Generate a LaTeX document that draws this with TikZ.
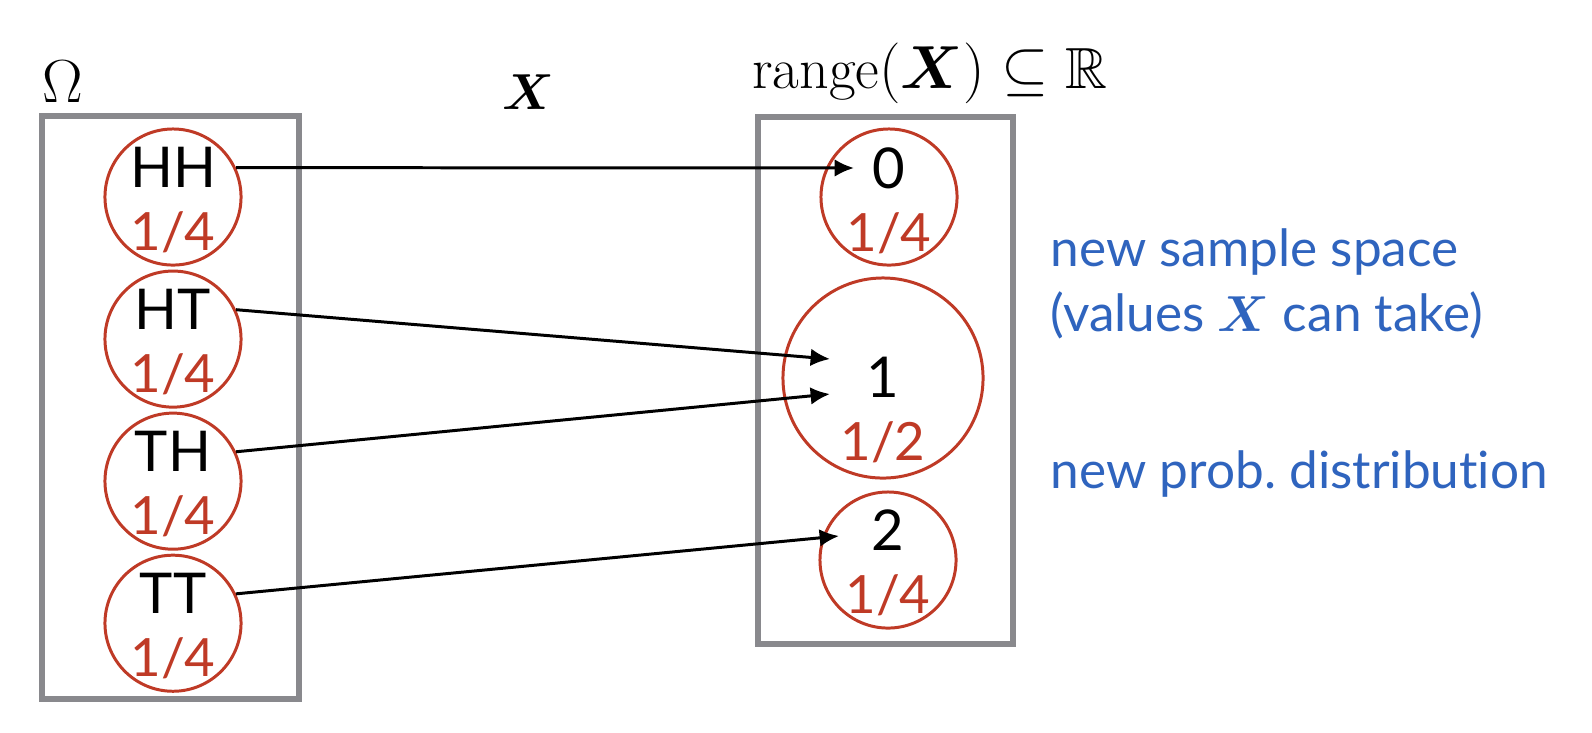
\documentclass[tikz,border=0pt]{standalone}
\usepackage{amsmath,amssymb}
\usepackage{fontspec}
\newfontfamily\labelfont[Ligatures=NoCommon]{Lato}
\usepackage{xcolor}
\usetikzlibrary{positioning,arrows.meta}

\definecolor{outcomered}{RGB}{191,58,38}
\definecolor{framegray}{RGB}{137,137,141}
\definecolor{noteblue}{RGB}{47,100,190}

\begin{document}
\begin{tikzpicture}[x=0.01cm, y=-0.01cm,
  frame/.style={draw=framegray, line width=1.7pt, rectangle, inner sep=0pt},
  outcome/.style={draw=outcomered, line width=0.85pt, circle, inner sep=0pt, minimum size=1.36cm},
  lbl/.style={inner sep=0pt, font=\labelfont\fontsize{16}{18}\selectfont},
  prob/.style={inner sep=0pt, text=outcomered, font=\labelfont\fontsize{15}{17}\selectfont},
  note/.style={inner sep=0pt, text=noteblue, align=left,
    font=\labelfont\fontsize{14.6}{18.5}\selectfont},
  arrow/.style={line width=0.85pt, -{Latex[length=5.5pt, width=5pt]}}
]
  \useasboundingbox (0,0) rectangle (1592,732);

  % sample space
  \node[frame, minimum width=2.57cm, minimum height=5.83cm] (omega) at (170.5,407.5) {};
  \node[font=\fontsize{16}{18}\selectfont] (omegalbl) at (63,82) {$\Omega$};

  \node[outcome] (hhc) at (173,197) {};
  \node[outcome, below=0.03cm of hhc] (htc) {};
  \node[outcome, below=0.03cm of htc] (thc) {};
  \node[outcome, below=0.03cm of thc] (ttc) {};

  \node[lbl] (hh) at ([yshift=0.3cm]hhc) {HH};
  \node[lbl] (ht) at ([yshift=0.3cm]htc) {HT};
  \node[lbl] (th) at ([yshift=0.3cm]thc) {TH};
  \node[lbl] (tt) at ([yshift=0.3cm]ttc) {TT};
  \node[prob] (hhp) at ([yshift=-0.35cm]hhc) {1/4};
  \node[prob] (htp) at ([yshift=-0.35cm]htc) {1/4};
  \node[prob] (thp) at ([yshift=-0.35cm]thc) {1/4};
  \node[prob] (ttp) at ([yshift=-0.35cm]ttc) {1/4};

  % range of X
  \node[frame, minimum width=2.55cm, minimum height=5.27cm] (range) at (885.5,380.5) {};
  \node[font=\fontsize{16.5}{18}\selectfont] (rangelbl) at (930,73)
    {$\mathrm{range}(\boldsymbol{X}) \subseteq \mathbb{R}$};
  \node[font=\fontsize{15.4}{17}\selectfont] (maplbl) at (528,92) {$\boldsymbol{X}$};

  \node[outcome] (zeroc) at (889,197) {};
  \node[outcome, minimum size=2cm] (onec) at (883,378) {};
  \node[outcome] (twoc) at (888,560) {};

  \node[lbl] (zero) at ([yshift=0.29cm]zeroc) {0};
  \node[lbl] (one) at ([yshift=0.01cm]onec) {1};
  \node[lbl] (two) at ([yshift=0.3cm]twoc) {2};
  \node[prob] (zerop) at ([yshift=-0.36cm]zeroc) {1/4};
  \node[prob] (onep) at ([yshift=-0.64cm]onec) {1/2};
  \node[prob] (twop) at ([yshift=-0.35cm]twoc) {1/4};

  % the map X
  \draw[arrow] (hhc.25) -- ([xshift=-0.18cm]zero.west);
  \draw[arrow] (htc.25) -- ([xshift=-0.36cm, yshift=0.18cm]one.west);
  \draw[arrow] (thc.25) -- ([xshift=-0.36cm, yshift=-0.17cm]one.west);
  \draw[arrow] (ttc.25) -- ([xshift=-0.32cm, yshift=-0.06cm]two.west);

  % notes
  \node[note, anchor=west] (space) at (1050,284)
    {new sample space\\(values $\boldsymbol{X}$ can take)};
  \node[note, anchor=base west] (dist) at (1050,488) {new prob.\ distribution};
\end{tikzpicture}
\end{document}
